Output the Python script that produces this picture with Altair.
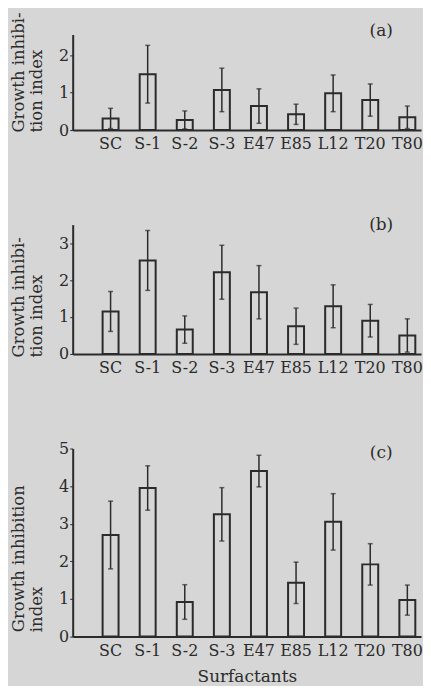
import altair as alt
import pandas as pd

categories = ["SC", "S-1", "S-2", "S-3", "E47", "E85", "L12", "T20", "T80"]

mean_a = [0.31, 1.49, 0.27, 1.07, 0.64, 0.42, 0.98, 0.80, 0.34]
err_a = [0.27, 0.77, 0.24, 0.58, 0.46, 0.27, 0.49, 0.43, 0.30]

mean_b = [1.15, 2.53, 0.66, 2.21, 1.67, 0.75, 1.29, 0.90, 0.50]
err_b = [0.54, 0.81, 0.37, 0.73, 0.72, 0.49, 0.58, 0.44, 0.45]

mean_c = [2.70, 3.95, 0.92, 3.25, 4.40, 1.43, 3.05, 1.92, 0.97]
err_c = [0.90, 0.59, 0.46, 0.71, 0.42, 0.55, 0.75, 0.55, 0.40]

panel_labels = ["(a)", "(b)", "(c)"]
y_titles = [["Growth inhibi-", "tion index"], ["Growth inhibi-", "tion index"], ["Growth inhibition", "index"]]
y_max = [2.55, 3.5, 5.0]
y_ticks = [[0, 1, 2], [0, 1, 2, 3], [0, 1, 2, 3, 4, 5]]
x_title = "Surfactants"

INK = "#2b2b2b"
BG = "#d6d6d6"
FONT = "DejaVu Serif"


def panel(i, means, errs, height, label_dy, title_shift, show_x_title):
    df = pd.DataFrame({"cat": categories, "mean": means, "err": errs})
    df["lo"] = (df["mean"] - df["err"]).clip(lower=0)
    df["hi"] = df["mean"] + df["err"]

    x_axis_kwargs = dict(
        labelAngle=0, ticks=False, labelPadding=6, labelFontSize=16,
        labelFont=FONT, labelColor=INK, labelOverlap=False,
        domainWidth=2, domainColor=INK,
        titleFont=FONT, titleFontSize=17, titleFontWeight="normal",
        titleColor=INK, titlePadding=10,
    )
    if show_x_title:
        x_axis = alt.Axis(title=x_title, **x_axis_kwargs)
    else:
        x_axis = alt.Axis(title=None, **x_axis_kwargs)
    x = alt.X("cat:N", sort=categories,
              scale=alt.Scale(paddingInner=0.57, paddingOuter=0.48, align=0.84),
              axis=x_axis)

    y_scale = alt.Scale(domain=[0, y_max[i]], nice=False)
    y_axis = alt.Axis(
        values=y_ticks[i], format="d", title=y_titles[i],
        titleAnchor="start", titleAlign="left", titleY=height + title_shift,
        titleFont=FONT, titleFontSize=16.5, titleFontWeight="normal",
        titleColor=INK, titleLineHeight=18, titlePadding=14,
        labelFont=FONT, labelFontSize=16, labelColor=INK, labelPadding=1,
        tickSize=3, tickColor=INK, domainWidth=2, domainColor=INK, grid=False,
    )

    base = alt.Chart(df).encode(x=x)
    bars = base.mark_bar(fillOpacity=0, stroke=INK, strokeWidth=2).encode(
        y=alt.Y("mean:Q", scale=y_scale, axis=y_axis))
    rules = base.mark_rule(color=INK, strokeWidth=1.5).encode(
        y=alt.Y("lo:Q", scale=y_scale, axis=y_axis), y2="hi:Q")
    cap_hi = base.mark_tick(color=INK, thickness=1.5, size=5).encode(
        y=alt.Y("hi:Q", scale=y_scale, axis=y_axis))
    cap_lo = base.mark_tick(color=INK, thickness=1.5, size=5).encode(
        y=alt.Y("lo:Q", scale=y_scale, axis=y_axis))
    lab = alt.Chart(pd.DataFrame({"label": [panel_labels[i]]})).mark_text(
        font=FONT, fontSize=17, color=INK, align="center", baseline="middle"
    ).encode(text="label:N", x=alt.value(310), y=alt.value(label_dy))

    return alt.layer(bars, rules, cap_hi, cap_lo, lab).properties(width=350, height=height)


pa = panel(0, mean_a, err_a, 96, -3, 2, False)
pb = panel(1, mean_b, err_b, 130, 0, 3, False)
pc = panel(2, mean_c, err_c, 189, 5, -5, True)

chart = alt.vconcat(pa, pb, pc, spacing=95, bounds="flush").properties(
    background=BG, padding={"left": 2, "top": 2, "right": 0, "bottom": 0}
).configure_view(strokeWidth=0)

chart.save("out.html", embed_options={"renderer": "svg", "actions": False})
